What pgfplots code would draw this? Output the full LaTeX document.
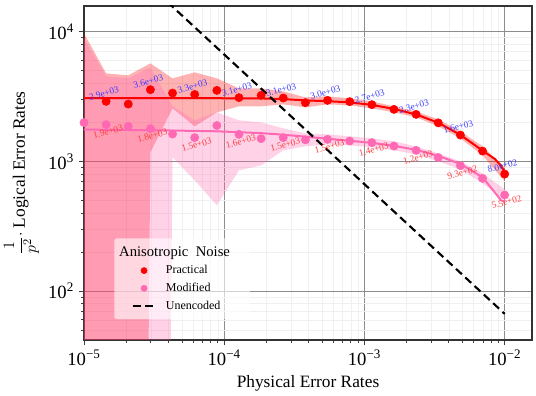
\documentclass[border=0pt]{standalone}
\usepackage{pgfplots}
\pgfplotsset{compat=1.18}
\usepackage{fontspec}
\setmainfont{Liberation Serif}
\definecolor{hotpink}{RGB}{255,105,180}
\definecolor{lblblue}{RGB}{60,60,255}
\definecolor{lblred}{RGB}{255,60,60}
\begin{document}
\begin{tikzpicture}
\begin{axis}[
  scale only axis, width=336pt, height=250.5pt,
  xmode=log, ymode=log,
  xmin=1e-5, xmax=0.01566, ymin=41.9, ymax=15780,
  xtick={1e-5,1e-4,1e-3,1e-2},
  xticklabels={10\textsuperscript{−5},10\textsuperscript{−4},10\textsuperscript{−3},10\textsuperscript{−2}},
  ytick={1e2,1e3,1e4},
  yticklabels={10\textsuperscript{2},10\textsuperscript{3},10\textsuperscript{4}},
  minor xtick={2e-5,3e-5,4e-5,5e-5,6e-5,7e-5,8e-5,9e-5,2e-4,3e-4,4e-4,5e-4,6e-4,7e-4,8e-4,9e-4,2e-3,3e-3,4e-3,5e-3,6e-3,7e-3,8e-3,9e-3},
  minor ytick={50,60,70,80,90,200,300,400,500,600,700,800,900,2000,3000,4000,5000,6000,7000,8000,9000},
  grid=both,
  major grid style={draw=black!45, line width=0.5pt},
  minor grid style={draw=black!6, line width=0.4pt},
  tick align=outside, xtick pos=bottom, ytick pos=left,
  major tick length=4pt, minor tick length=2.3pt,
  every tick/.style={black!75, line width=0.6pt},
  axis line style={black!80, line width=1.1pt},
  tick label style={font=\fontsize{14}{16}\selectfont},
  label style={font=\fontsize{13}{15}\selectfont},
  xlabel={Physical Error Rates},
  ylabel={$\displaystyle\frac{1}{p^2}\cdot$ Logical Error Rates},
  legend cell align=left,
  legend style={
    at={(0.067,0.305)}, anchor=north west,
    fill=white, fill opacity=0.6, text opacity=1, draw=none,
    rounded corners=2pt,
    font=\fontsize{9}{11}\selectfont,
    inner xsep=13pt, inner ysep=4pt, row sep=1.5pt,
    /tikz/every odd column/.append style={column sep=5pt},
  },
]
% confidence regions
\addplot[fill=red, fill opacity=0.3, draw=none, forget plot] coordinates {
(1e-5,9703) (1.4384e-5,4770) (2.0691e-5,4604) (2.9764e-5,5695) (4.2813e-5,4365) (6.1585e-5,4856) (8.8587e-5,4365) (1.2743e-4,3654) (1.8330e-4,3654) (2.6367e-4,3465) (3.7927e-4,3114) (5.4556e-4,3171) (7.8476e-4,3060) (1.1288e-3,2901) (1.6238e-3,2656) (2.3357e-3,2429) (3.3598e-3,2108) (4.8329e-3,1703) (6.9519e-3,1305) (1e-2,899)
(1e-2,701) (6.9519e-3,1113) (4.8329e-3,1504) (3.3598e-3,1862) (2.3357e-3,2184) (1.6238e-3,2387) (1.1288e-3,2562) (7.8476e-4,2703) (5.4556e-4,2751) (3.7927e-4,2609) (2.6367e-4,2751) (1.8330e-4,2656) (1.2743e-4,2656) (8.8587e-5,2387) (6.1585e-5,1862) (4.2813e-5,2562) (2.9764e-5,1173) (2.0691e-5,1e-15) (1.4384e-5,1e-15) (1e-5,1e-15)
} -- cycle;
\addplot[fill=hotpink, fill opacity=0.3, draw=none, forget plot] coordinates {
(1e-5,8879) (1.4384e-5,4523) (2.0691e-5,4365) (2.9764e-5,5305) (4.2813e-5,2656) (6.1585e-5,2071) (8.8587e-5,2387) (1.2743e-4,2071) (1.8330e-4,1998) (2.6367e-4,1797) (3.7927e-4,1644) (5.4556e-4,1615) (7.8476e-4,1559) (1.1288e-3,1504) (1.6238e-3,1427) (2.3357e-3,1305) (3.3598e-3,1152) (4.8329e-3,1000) (6.9519e-3,808) (1e-2,608)
(1e-2,500) (6.9519e-3,677) (4.8329e-3,868) (3.3598e-3,1000) (2.3357e-3,1132) (1.6238e-3,1216) (1.1288e-3,1282) (7.8476e-4,1329) (5.4556e-4,1352) (3.7927e-4,1305) (2.6367e-4,1216) (1.8330e-4,931) (1.2743e-4,852) (8.8587e-5,458) (6.1585e-5,714) (4.2813e-5,1074) (2.9764e-5,1e-15) (2.0691e-5,1e-15) (1.4384e-5,1e-15) (1e-5,1e-15)
} -- cycle;
% fits
\addplot[red, line width=1.5pt, forget plot] coordinates {
(1e-5,3075) (2.0691e-5,3073) (4.2813e-5,3070) (8.8587e-5,3067) (1.2743e-4,3063) (1.8330e-4,3058) (2.6367e-4,3020) (3.7927e-4,2950) (5.4556e-4,2910) (7.8476e-4,2850) (1.1288e-3,2726) (1.6238e-3,2535) (2.3357e-3,2300) (3.3598e-3,1985) (4.8329e-3,1600) (6.9519e-3,1210) (8.54e-3,1040) (9.37e-3,930) (1e-2,830)
};
\addplot[hotpink, line width=1.5pt, forget plot] coordinates {
(1e-5,1756) (2.9764e-5,1740) (8.8587e-5,1705) (1.8330e-4,1650) (2.6367e-4,1605) (3.7927e-4,1550) (5.4556e-4,1495) (7.8476e-4,1440) (1.1288e-3,1389) (1.6238e-3,1317) (2.3357e-3,1227) (3.3598e-3,1103) (4.8329e-3,955) (6.9519e-3,753) (8.27e-3,598) (9.43e-3,500) (1e-2,491)
};
% points
\addplot[only marks, mark=*, mark size=3.1pt, red, forget plot] coordinates {
(1.4384e-5,2902) (2.0691e-5,2765) (2.9764e-5,3571) (4.2813e-5,3362) (6.1585e-5,3280) (8.8587e-5,3527) (1.2743e-4,3098) (1.8330e-4,3228) (2.6367e-4,3080) (3.7927e-4,2835) (5.4556e-4,2953) (7.8476e-4,2886) (1.1288e-3,2736) (1.6238e-3,2517) (2.3357e-3,2303) (3.3598e-3,1981) (4.8329e-3,1595) (6.9519e-3,1200) (1e-2,798)
};
\addplot[only marks, mark=*, mark size=3.1pt, hotpink, forget plot] coordinates {
(1e-5,1988) (1.4384e-5,1919) (2.0691e-5,1862) (2.9764e-5,1787) (4.2813e-5,1624) (6.1585e-5,1523) (8.8587e-5,1888) (1.2743e-4,1615) (1.8330e-4,1496) (2.6367e-4,1523) (3.7927e-4,1465) (5.4556e-4,1478) (7.8476e-4,1434) (1.1288e-3,1394) (1.6238e-3,1312) (2.3357e-3,1216) (3.3598e-3,1070) (4.8329e-3,927) (6.9519e-3,739) (1e-2,550)
};
% unencoded
\addplot[black, line width=1.6pt, dash pattern=on 6pt off 3.5pt, forget plot] coordinates {(1e-5,66667) (1e-2,66.67)};
% value labels
\addplot[draw=none, mark=none, forget plot, nodes near coords, point meta=explicit symbolic,
  nodes near coords style={font=\fontsize{7}{8}\selectfont, text=lblblue, rotate=15, anchor=center, yshift=6.3pt}]
  table[meta=l] {
x y l
1.4384e-5 2902 2.9e+03
2.9764e-5 3571 3.6e+03
6.1585e-5 3280 3.3e+03
1.2743e-4 3098 3.1e+03
2.6367e-4 3080 3.1e+03
5.4556e-4 2953 3.0e+03
1.1288e-3 2736 2.7e+03
2.3357e-3 2303 2.3e+03
4.8329e-3 1595 1.6e+03
1e-2 798 8.0e+02
};
\addplot[draw=none, mark=none, forget plot, nodes near coords, point meta=explicit symbolic,
  nodes near coords style={font=\fontsize{7}{8}\selectfont, text=lblred, rotate=15, anchor=center, yshift=-5.5pt}]
  table[meta=l] {
x y l
1.4384e-5 1919 1.9e+03
2.9764e-5 1787 1.8e+03
6.1585e-5 1523 1.5e+03
1.2743e-4 1615 1.6e+03
2.6367e-4 1523 1.5e+03
5.4556e-4 1478 1.5e+03
1.1288e-3 1394 1.4e+03
2.3357e-3 1216 1.2e+03
4.8329e-3 927 9.3e+02
1e-2 550 5.5e+02
};
% legend
\addlegendimage{empty legend}
\addlegendentry{\hspace{-35pt}\fontsize{11}{13}\selectfont Anisotropic\ \ Noise}
\addlegendimage{only marks, mark=*, mark size=2.3pt, red, fill opacity=1, draw opacity=1, mark options={fill opacity=1, draw opacity=1}}
\addlegendentry{Practical}
\addlegendimage{only marks, mark=*, mark size=2.3pt, hotpink, fill opacity=1, draw opacity=1, mark options={fill opacity=1, draw opacity=1}}
\addlegendentry{Modified}
\addlegendimage{black, line width=1.6pt, dash pattern=on 6pt off 3.5pt, draw opacity=1}
\addlegendentry{Unencoded}
\end{axis}
\pgfresetboundingbox
\path (-63pt,-42pt) rectangle (339pt,255pt);
\end{tikzpicture}
\end{document}
